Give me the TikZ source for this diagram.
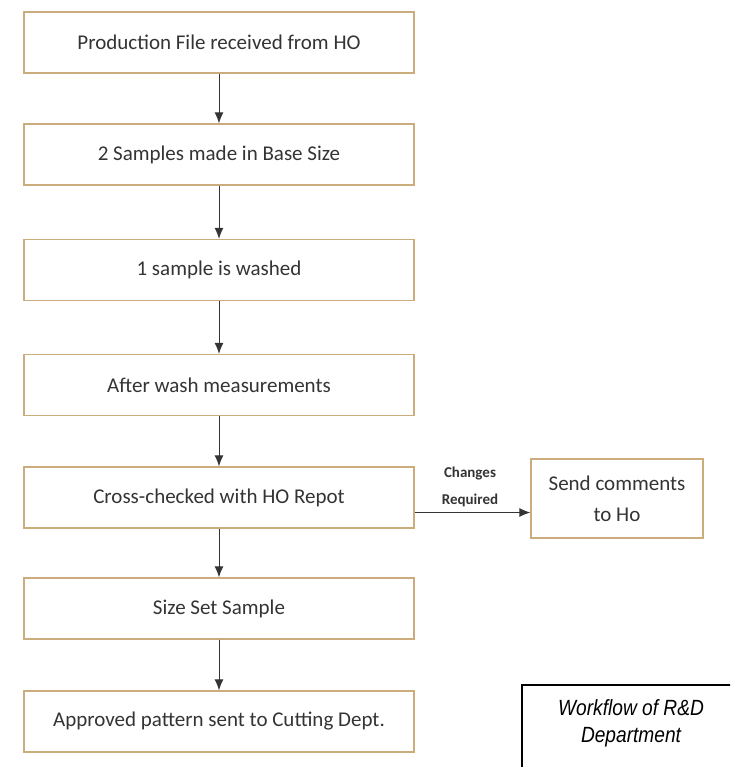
\documentclass[tikz,border=0pt]{standalone}
\usepackage{fontspec}
\setmainfont{Carlito}
\newfontfamily\arialfont{Liberation Sans}
\usetikzlibrary{arrows.meta}
\definecolor{boxline}{RGB}{204,172,124}
\definecolor{ink}{RGB}{52,52,52}
\begin{document}
\begin{tikzpicture}[x=1pt,y=-1pt]
	\tikzstyle{stepbox}=[draw=boxline,line width=1.3pt,fill=white,minimum width=390pt,minimum height=61pt,inner sep=0pt,text=ink,font=\fontsize{21}{26}\selectfont]
	\tikzstyle{sidebox}=[stepbox,minimum width=172pt,minimum height=79pt,align=center,font=\fontsize{21}{31}\selectfont]
	\tikzstyle{arrow1}=[-{Latex[length=11pt,width=9pt]},draw=ink,line width=1pt]
	\tikzstyle{note}=[inner sep=0pt,text=ink,align=center,font=\bfseries\fontsize{15}{27}\selectfont]
	\tikzstyle{caption}=[inner sep=0pt,align=center,font=\arialfont\itshape\fontsize{22}{27}\selectfont]
		\useasboundingbox (0,0) rectangle (730,767);
		\clip (0,0) rectangle (730,767);

		\node [style=stepbox] (0) at (219, 42.5) {Production File received from HO};
		\node [style=stepbox] (1) at (219, 154.5) {2 Samples made in Base Size};
		\node [style=stepbox] (2) at (219, 270) {1 sample is washed};
		\node [style=stepbox] (3) at (219, 385) {After wash measurements};
		\node [style=stepbox] (4) at (219, 497.5) {Cross-checked with HO Repot};
		\node [style=stepbox] (5) at (219, 608.5) {Size Set Sample};
		\node [style=stepbox] (6) at (219, 721.5) {Approved pattern sent to Cutting Dept.};
		\node [style=sidebox] (7) at (617, 498.5) {Send comments\\to Ho};
		\node [style=note] (8) at (470, 487) {Changes\\Required};
		\node [style=caption] (9) at (631, 723) {\scalebox{0.87}[1]{Workflow of R\&D}\\\scalebox{0.87}[1]{Department}};

		\draw [style=arrow1] (0.south) to (1.north);
		\draw [style=arrow1] (1.south) to (2.north);
		\draw [style=arrow1] (2.south) to (3.north);
		\draw [style=arrow1] (3.south) to (4.north);
		\draw [style=arrow1] (4.south) to (5.north);
		\draw [style=arrow1] (5.south) to (6.north);
		\draw [style=arrow1] ([yshift=-15pt]4.east) to ([yshift=-15pt]4.east -| 7.west);
		\draw [line width=1.5pt] (522, 685) rectangle (745, 790);

\end{tikzpicture}
\end{document}
